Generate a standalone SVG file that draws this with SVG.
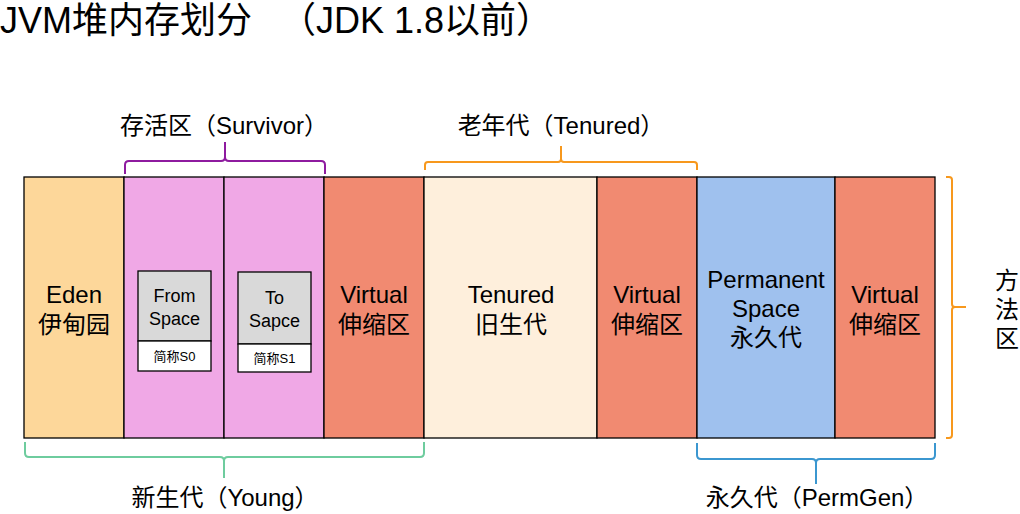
<svg xmlns="http://www.w3.org/2000/svg" width="1020" height="514" viewBox="0 0 1020 514">
<style>
  text { font-family: "Liberation Sans", Arial, "Noto Sans CJK SC", sans-serif; fill: #000; }
  .cell { stroke: #000; stroke-width: 1.3; }
  .lbl { font-size: 24px; text-anchor: middle; }
  .cap { font-size: 24px; text-anchor: middle; }
  .small { font-size: 18px; text-anchor: middle; }
  .tiny { font-size: 13px; text-anchor: middle; }
  .brace { fill: none; stroke-width: 2; stroke-linejoin: round; }
</style>
<rect width="1020" height="514" fill="#fff"/>

<text x="0" y="33" font-size="36">JVM堆内存划分</text>
<text x="552" y="33" font-size="36" text-anchor="end">（JDK 1.8以前）</text>

<g id="eden">
  <rect class="cell" x="24" y="177" width="100" height="261" fill="#FDD79A"/>
  <text class="lbl" x="74" y="303">Eden</text>
  <text class="lbl" x="74" y="333">伊甸园</text>
</g>
<g id="from-space">
  <rect class="cell" x="124" y="177" width="100" height="261" fill="#F0A8E6"/>
  <rect class="cell" x="138" y="271" width="73" height="70" fill="#D9D9D9"/>
  <rect class="cell" x="138" y="341" width="73" height="30" fill="#FFFFFF"/>
  <text class="small" x="174.5" y="302">From</text>
  <text class="small" x="174.5" y="325">Space</text>
  <text class="tiny" x="174.5" y="361">简称S0</text>
</g>
<g id="to-space">
  <rect class="cell" x="224" y="177" width="100" height="261" fill="#F0A8E6"/>
  <rect class="cell" x="238" y="272" width="73" height="72" fill="#D9D9D9"/>
  <rect class="cell" x="238" y="344" width="73" height="28" fill="#FFFFFF"/>
  <text class="small" x="274.5" y="304">To</text>
  <text class="small" x="274.5" y="327">Sapce</text>
  <text class="tiny" x="274.5" y="363">简称S1</text>
</g>
<g id="young-virtual">
  <rect class="cell" x="324" y="177" width="100" height="261" fill="#F18A71"/>
  <text class="lbl" x="374" y="303">Virtual</text>
  <text class="lbl" x="374" y="333">伸缩区</text>
</g>
<g id="tenured">
  <rect class="cell" x="424" y="177" width="173" height="261" fill="#FEEFDC"/>
  <text class="lbl" x="511" y="303">Tenured</text>
  <text class="lbl" x="511" y="333">旧生代</text>
</g>
<g id="tenured-virtual">
  <rect class="cell" x="597" y="177" width="100" height="261" fill="#F18A71"/>
  <text class="lbl" x="647" y="303">Virtual</text>
  <text class="lbl" x="647" y="333">伸缩区</text>
</g>
<g id="perm">
  <rect class="cell" x="697" y="177" width="138" height="261" fill="#9FC1EE"/>
  <text class="lbl" x="766" y="288">Permanent</text>
  <text class="lbl" x="766" y="317">Space</text>
  <text class="lbl" x="766" y="346">永久代</text>
</g>
<g id="perm-virtual">
  <rect class="cell" x="835" y="177" width="100" height="261" fill="#F18A71"/>
  <text class="lbl" x="885" y="303">Virtual</text>
  <text class="lbl" x="885" y="333">伸缩区</text>
</g>

<g id="connectors">
  <!-- survivor brace -->
  <path class="brace" stroke="#8E1B9F" d="M125,174 L125,165 Q125,161 129,161 L221,161 Q225,161 225,157 L225,142 M225,157 Q225,161 229,161 L321,161 Q325,161 325,165 L325,174"/>
  <!-- tenured brace -->
  <path class="brace" stroke="#F7981D" d="M425,170 L425,165 Q425,162 428,162 L558,162 Q561,162 561,159 L561,146 M561,159 Q561,162 564,162 L694,162 Q697,162 697,165 L697,170"/>
  <!-- young brace -->
  <path class="brace" stroke="#6ECC9E" d="M25,442 L25,453 Q25,457 29,457 L220,457 Q224,457 224,461 L224,478 M224,461 Q224,457 228,457 L420,457 Q424,457 424,453 L424,442"/>
  <!-- permgen brace -->
  <path class="brace" stroke="#3B97D0" d="M697,443 L697,455 Q697,459 701,459 L812,459 Q816,459 816,463 L816,484 M816,463 Q816,459 820,459 L931,459 Q935,459 935,455 L935,443"/>
  <!-- method area brace -->
  <path class="brace" stroke="#F7981D" d="M946,177 L949,177 Q952,177 952,180 L952,304 Q952,307 955,307 L966,307 M955,307 Q952,307 952,310 L952,435 Q952,438 949,438 L946,438"/>
</g>

<text class="cap" x="224" y="134">存活区（Survivor）</text>
<text class="cap" x="561" y="134">老年代（Tenured）</text>
<text class="cap" x="225" y="506">新生代（Young）</text>
<text class="cap" x="817" y="506">永久代（PermGen）</text>
<text class="cap" x="1007" y="289">方</text>
<text class="cap" x="1007" y="318">法</text>
<text class="cap" x="1007" y="347">区</text>
</svg>
